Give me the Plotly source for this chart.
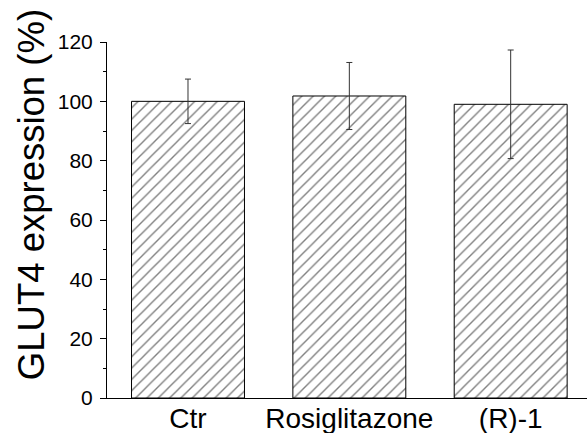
import plotly.graph_objects as go

categories = ["Ctr", "Rosiglitazone", "(R)-1"]
values = [100.0, 101.8, 99.0]
errors = [7.5, 11.3, 18.3]
y_title = "GLUT4 expression (%)"

FONT = "Liberation Sans, Arial, sans-serif"

fig = go.Figure()
fig.add_trace(go.Bar(
    x=list(range(len(categories))),
    y=values,
    width=0.70,
    marker=dict(
        color="white",
        line=dict(color="black", width=1),
        pattern=dict(shape="/", size=8, solidity=0.17, fgcolor="black", bgcolor="white"),
    ),
    error_y=dict(type="data", array=errors, visible=True, color="#333", thickness=1, width=3),
    showlegend=False,
))

fig.update_layout(
    width=587, height=433,
    margin=dict(l=107, r=0, t=42, b=35, autoexpand=False),
    plot_bgcolor="white", paper_bgcolor="white",
    font=dict(family=FONT, color="black"),
    bargap=0.3,
)
fig.update_xaxes(
    range=[-0.502, 2.473], automargin=False,
    tickmode="array", tickvals=list(range(len(categories))), ticktext=categories,
    showline=True, linecolor="black", linewidth=1,
    ticks="", showgrid=False, zeroline=False,
    tickfont=dict(size=28, family=FONT, color="black"),
    ticklabelstandoff=-5,
)
fig.update_yaxes(
    range=[0, 120], automargin=False,
    tickmode="linear", tick0=0, dtick=20,
    showline=True, linecolor="black", linewidth=1,
    ticks="outside", ticklen=6, tickwidth=1, tickcolor="black",
    minor=dict(ticks="outside", ticklen=3, dtick=10, tickcolor="black", tickwidth=1, showgrid=False),
    showgrid=False, zeroline=False,
    tickfont=dict(size=21, family=FONT, color="black"),
    ticklabelstandoff=3,
)
fig.add_annotation(
    text=y_title, textangle=-90,
    xref="paper", yref="paper",
    x=(31 - 107) / 480, y=(397.7 - 195) / 355.7,
    xanchor="center", yanchor="middle",
    showarrow=False,
    font=dict(size=36.5, family=FONT, color="black"),
)

fig.write_html(
    "out.html",
    config={"displayModeBar": False},
    post_script="document.body.style.margin='0';document.body.style.padding='0';document.body.style.overflow='hidden';",
)
